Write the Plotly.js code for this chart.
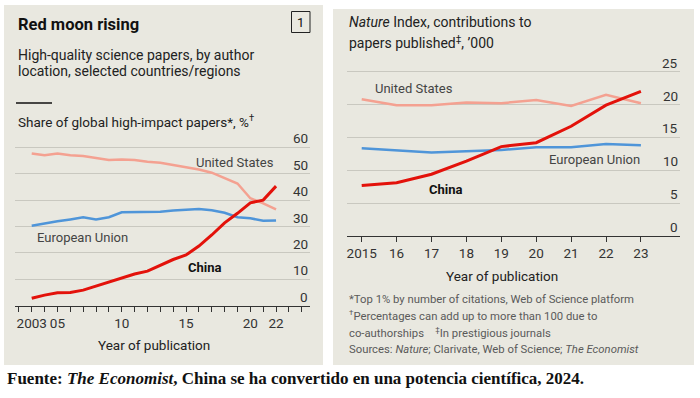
<!DOCTYPE html>
<html><head><meta charset="utf-8">
<script src="https://cdn.plot.ly/plotly-3.0.1.min.js"></script>
<style>html,body{margin:0;padding:0;background:#fff;}#chart{width:700px;height:398px;}</style>
</head><body><div id="chart"></div>
<script>
// ---- Data: left panel (share of global high-impact papers, %) ----
const yearsLeft = [2003,2004,2005,2006,2007,2008,2009,2010,2011,2012,2013,2014,2015,2016,2017,2018,2019,2020,2021,2022];
const usShare = [57.7,57.0,57.7,57.0,56.7,56.0,55.2,55.4,55.2,54.5,54.2,53.3,52.4,51.6,50.4,48.2,46.3,40.7,38.8,36.5];
const euShare = [30.3,31.2,32.0,32.7,33.5,32.7,33.5,35.4,35.4,35.4,35.6,36.1,36.4,36.6,36.2,35.2,33.5,33.1,32.2,32.3];
const cnShare = [2.8,4.0,4.9,5.0,5.9,7.4,9.1,10.6,12.0,13.1,15.4,17.5,19.2,22.6,26.8,31.4,35.0,39.0,40.0,45.3];
const leftTickVals = [2003,2005,2010,2015,2020,2022];
const leftTickText = ["2003","05","10","15","20","22"];
const leftYTicks = [0,10,20,30,40,50,60];

// ---- Data: right panel (Nature Index, '000) ----
const yearsRight = [2015,2016,2017,2018,2019,2020,2021,2022,2023];
const usNature = [20.8,19.9,19.9,20.3,20.2,20.7,19.8,21.5,20.2];
const euNature = [13.35,13.0,12.7,12.9,13.1,13.5,13.5,14.0,13.8];
const cnNature = [7.7,8.1,9.4,11.4,13.6,14.2,16.7,19.9,22.0];
const rightTickText = ["2015","16","17","18","19","20","21","22","23"];
const rightYTicks = [0,5,10,15,20,25];

const seriesNames = ["United States","European Union","China"];

// ---- Styles ----
const FONT = "Roboto, 'Liberation Sans', sans-serif";
const cUS = "#f4a191", cEU = "#4f95d9", cCN = "#e3120b";
const BG = "#e9e8e0";
const W = 700, H = 398;
const px = x => x / W, py = y => 1 - y / H;

const traces = [
  {x: yearsLeft, y: usShare, xaxis:'x', yaxis:'y', mode:'lines', line:{color:cUS, width:2.5}, name:seriesNames[0]},
  {x: yearsLeft, y: euShare, xaxis:'x', yaxis:'y', mode:'lines', line:{color:cEU, width:2.5}, name:seriesNames[1]},
  {x: yearsLeft, y: cnShare, xaxis:'x', yaxis:'y', mode:'lines', line:{color:cCN, width:3}, name:seriesNames[2]},
  {x: yearsRight, y: usNature, xaxis:'x2', yaxis:'y2', mode:'lines', line:{color:cUS, width:2.5}, name:seriesNames[0]},
  {x: yearsRight, y: euNature, xaxis:'x2', yaxis:'y2', mode:'lines', line:{color:cEU, width:2.5}, name:seriesNames[1]},
  {x: yearsRight, y: cnNature, xaxis:'x2', yaxis:'y2', mode:'lines', line:{color:cCN, width:3}, name:seriesNames[2]}
];

const tickFont = {family: FONT, size: 13.5, color: '#333'};
const xCommon = {showgrid:false, zeroline:false, showline:true, linecolor:'#333', linewidth:1,
  ticks:'outside', ticklen:5, tickwidth:1, tickcolor:'#333', tickfont:tickFont, fixedrange:true};
const yCommon = {side:'right', showgrid:true, gridcolor:'#c9c8c0', gridwidth:1, zeroline:false, showline:false,
  ticks:'', showticklabels:false, fixedrange:true};

const ann = [];
function T(x, y, text, opts) {
  ann.push(Object.assign({xref:'paper', yref:'paper', x:px(x), y:py(y), text:text, showarrow:false,
    xanchor:'left', yanchor:'middle', font:{family:FONT, size:14, color:'#1a1a1a'}}, opts||{}));
}
// y tick labels (above gridlines, right aligned), placed via the axes' scales
leftYTicks.forEach(v => ann.push({xref:'paper', yref:'y', x:px(310), y:v, yshift:9, text:String(v), showarrow:false,
  xanchor:'right', yanchor:'middle', font:tickFont}));
rightYTicks.forEach(v => ann.push({xref:'paper', yref:'y2', x:px(680), y:v, yshift:9, text:String(v), showarrow:false,
  xanchor:'right', yanchor:'middle', font:tickFont}));

// Left panel texts
T(16, 25, "<b>Red moon rising</b>", {font:{family:FONT, size:16.5, color:'#111'}});
T(300.5, 22, "1", {xanchor:'center', font:{family:FONT, size:13, color:'#111'}});
T(16, 54.5, "High-quality science papers, by author", {font:{family:FONT, size:14, color:'#222'}});
T(16, 71, "location, selected countries/regions", {font:{family:FONT, size:14, color:'#222'}});
T(16, 121, "Share of global high-impact papers*, %<sup>†</sup>", {font:{family:FONT, size:13.5, color:'#222'}});
T(276, 162, seriesNames[0], {xanchor:'right', font:{family:FONT, size:13, color:'#444'}});
T(35, 237, seriesNames[1], {font:{family:FONT, size:13, color:'#444'}});
T(186, 267, "<b>China</b>", {font:{family:FONT, size:13, color:'#111'}});
T(154, 345, "Year of publication", {xanchor:'center', font:{family:FONT, size:13.5, color:'#222'}});
// Right panel texts
T(347, 22.5, "<i>Nature</i> Index, contributions to", {font:{family:FONT, size:14, color:'#222'}});
T(347, 42.5, "papers published<sup>‡</sup>, ’000", {font:{family:FONT, size:14, color:'#222'}});
T(373, 88, seriesNames[0], {font:{family:FONT, size:13, color:'#444'}});
T(642, 159, seriesNames[1], {xanchor:'right', font:{family:FONT, size:13, color:'#444'}});
T(427, 190, "<b>China</b>", {font:{family:FONT, size:13, color:'#111'}});
T(502, 276, "Year of publication", {xanchor:'center', font:{family:FONT, size:13.5, color:'#222'}});
const fn = {family:FONT, size:11.3, color:'#5a5a5a'};
T(347, 299, "*Top 1% by number of citations, Web of Science platform", {font:fn});
T(347, 315.5, "<sup>†</sup>Percentages can add up to more than 100 due to", {font:fn});
T(347, 332, "co-authorships    <sup>‡</sup>In prestigious journals", {font:fn});
T(347, 349, "Sources: <i>Nature</i>; Clarivate, Web of Science; <i>The Economist</i>", {font:fn});
// Footer
T(5, 378, "<b>Fuente: <i>The Economist</i>, China se ha convertido en una potencia científica, 2024.</b>",
  {font:{family:"'Liberation Serif', 'DejaVu Serif', serif", size:17, color:'#111'}});

const shapes = [
  {type:'rect', xref:'paper', yref:'paper', x0:px(4), x1:px(323), y0:py(5), y1:py(365), fillcolor:BG, line:{width:0}, layer:'below'},
  {type:'rect', xref:'paper', yref:'paper', x0:px(333), x1:px(694), y0:py(9), y1:py(365), fillcolor:BG, line:{width:0}, layer:'below'},
  {type:'rect', xref:'paper', yref:'paper', x0:px(291.5), x1:px(310), y0:py(11.5), y1:py(32.5), line:{color:'#222', width:1}},
  {type:'line', xref:'paper', yref:'paper', x0:px(16), x1:px(52), y0:py(103), y1:py(103), line:{color:'#111', width:1.5}}
];

const layout = {
  width:W, height:H, margin:{l:0,r:0,t:0,b:0}, paper_bgcolor:'#fff', plot_bgcolor:'rgba(0,0,0,0)',
  showlegend:false, font:{family:FONT},
  xaxis: Object.assign({}, xCommon, {domain:[px(15), px(310)], range:[2001.7, 2024.64], tickvals:leftTickVals, ticktext:leftTickText, anchor:'y',
    minor:{ticks:'outside', ticklen:5, tickwidth:1, tickcolor:'#333', tick0:2003, dtick:1, showgrid:false}}),
  yaxis: Object.assign({}, yCommon, {domain:[py(305.7), py(144.7)], range:[0,61], tickvals:leftYTicks, anchor:'x'}),
  xaxis2: Object.assign({}, xCommon, {domain:[px(346.7), px(680)], range:[2014.57, 2024.12], tickvals:yearsRight, ticktext:rightTickText, anchor:'y2'}),
  yaxis2: Object.assign({}, yCommon, {domain:[py(236), py(68.4)], range:[0,25.5], tickvals:rightYTicks, anchor:'x2'}),
  annotations: ann, shapes: shapes
};
Plotly.newPlot('chart', traces, layout, {staticPlot:true, displayModeBar:false});
</script></body></html>
